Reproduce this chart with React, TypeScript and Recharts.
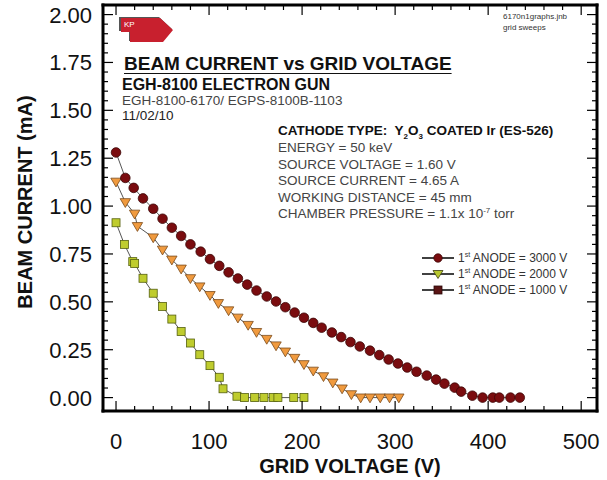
import React from 'react';
import { LineChart, Line, XAxis, YAxis } from 'recharts';

// grid voltage (V) / beam current (mA)
const anode3000V = [0, 10, 19, 29, 40, 50, 60, 70, 80, 91, 101, 111, 121, 131, 141, 151, 162, 172, 182, 192, 202, 212, 221, 232, 242, 252, 262, 273, 283, 293, 303, 313, 323, 334, 344, 353, 364, 371, 383, 394, 405, 412, 424, 434];
const anode3000I = [1.28, 1.147, 1.095, 1.04, 0.986, 0.934, 0.887, 0.844, 0.8, 0.762, 0.723, 0.688, 0.654, 0.622, 0.59, 0.559, 0.528, 0.502, 0.472, 0.444, 0.417, 0.39, 0.365, 0.34, 0.316, 0.29, 0.267, 0.245, 0.222, 0.199, 0.178, 0.157, 0.135, 0.115, 0.094, 0.073, 0.052, 0.031, 0.01, 0, 0, 0, 0, 0];

const anode2000V = [0, 10, 20, 23, 40, 50, 60, 70, 80, 90, 101, 110, 121, 131, 142, 151, 162, 172, 182, 192, 202, 212, 223, 233, 243, 253, 263, 273, 284, 294, 304];
const anode2000I = [1.127, 1.02, 0.96, 0.895, 0.836, 0.772, 0.72, 0.673, 0.623, 0.58, 0.535, 0.493, 0.455, 0.417, 0.379, 0.342, 0.306, 0.272, 0.24, 0.207, 0.174, 0.14, 0.111, 0.078, 0.047, 0.017, 0, 0, 0, 0, 0];

const anode1000V = [0, 9, 18, 20, 29, 40, 50, 60, 70, 80, 90, 101, 111, 115, 130, 138, 149, 159, 169, 174, 191, 202];
const anode1000I = [0.913, 0.8, 0.71, 0.7, 0.623, 0.545, 0.476, 0.41, 0.345, 0.285, 0.224, 0.167, 0.106, 0.046, 0.007, 0, 0, 0, 0, 0, 0, 0];

const xTicks = [0, 20, 40, 60, 80, 100, 120, 140, 160, 180, 200, 220, 240, 260, 280, 300, 320, 340, 360, 380, 400, 420, 440, 460, 480, 500];
const yTicks = [0, 0.05, 0.1, 0.15, 0.2, 0.25, 0.3, 0.35, 0.4, 0.45, 0.5, 0.55, 0.6, 0.65, 0.7, 0.75, 0.8, 0.85, 0.9, 0.95, 1, 1.05, 1.1, 1.15, 1.2, 1.25, 1.3, 1.35, 1.4, 1.45, 1.5, 1.55, 1.6, 1.65, 1.7, 1.75, 1.8, 1.85, 1.9, 1.95, 2];

const legendNames = ['3000 V', '2000 V', '1000 V'];

const zip = (vs: number[], is: number[]) => vs.map((v, k) => ({ v, i: is[k] }));
const s3000 = zip(anode3000V, anode3000I);
const s2000 = zip(anode2000V, anode2000I);
const s1000 = zip(anode1000V, anode1000I);

const FONT = '"Liberation Sans", Arial, sans-serif';
const MAJ = 10;
const MIN = 5;

const isMajorX = (v: number) => v % 100 === 0;
const isMajorY = (v: number) => Math.round(v * 100) % 25 === 0;

const BottomTick = ({ x, y, payload }: any) => {
  const major = isMajorX(payload.value);
  return (
    <g>
      <line x1={x} x2={x} y1={y} y2={y - (major ? MAJ : MIN)} stroke="#000" strokeWidth={1.2} />
      {major && (
        <text x={x} y={y + 38} textAnchor="middle" fontSize={22} fontFamily={FONT} fill="#111">
          {payload.value}
        </text>
      )}
    </g>
  );
};

const TopTick = ({ x, y, payload }: any) => {
  const major = isMajorX(payload.value);
  return <line x1={x} x2={x} y1={y} y2={y + (major ? MAJ : MIN)} stroke="#000" strokeWidth={1.2} />;
};

const LeftTick = ({ x, y, payload }: any) => {
  const major = isMajorY(payload.value);
  return (
    <g>
      <line x1={x} x2={x + (major ? MAJ : MIN)} y1={y} y2={y} stroke="#000" strokeWidth={1.2} />
      {major && (
        <text x={x - 11} y={y + 8} textAnchor="end" fontSize={22} fontFamily={FONT} fill="#111">
          {payload.value.toFixed(2)}
        </text>
      )}
    </g>
  );
};

const RightTick = ({ x, y, payload }: any) => {
  const major = isMajorY(payload.value);
  return <line x1={x} x2={x - (major ? MAJ : MIN)} y1={y} y2={y} stroke="#000" strokeWidth={1.2} />;
};

const CircleDot = ({ cx, cy, index }: any) => (
  <circle key={`c${index}`} cx={cx} cy={cy} r={4.8} fill="#7a0c0f" stroke="#3b0606" strokeWidth={0.8} />
);

const TriDot = ({ cx, cy, index }: any) => (
  <polygon
    key={`t${index}`}
    points={`${cx - 5.2},${cy - 3.6} ${cx + 5.2},${cy - 3.6} ${cx},${cy + 5.2}`}
    fill="#f09a3e"
    stroke="#7a4a1a"
    strokeWidth={0.8}
  />
);

const SquareDot = ({ cx, cy, index }: any) => (
  <rect key={`s${index}`} x={cx - 4} y={cy - 4} width={8} height={8} fill="#bfcc2e" stroke="#55600f" strokeWidth={0.8} />
);

const axisLine = { stroke: '#000', strokeWidth: 3, strokeLinecap: 'square' as const };

const abs = (left: number, top: number, size: number, extra: React.CSSProperties = {}): React.CSSProperties => ({
  position: 'absolute',
  left,
  top,
  fontSize: size,
  lineHeight: `${size}px`,
  fontFamily: FONT,
  whiteSpace: 'nowrap',
  ...extra,
});

const paramLines = [
  'ENERGY = 50 keV',
  'SOURCE VOLTAGE = 1.60 V',
  'SOURCE CURRENT = 4.65 A',
  'WORKING DISTANCE = 45 mm',
];

export default function App() {
  return (
    <div style={{ position: 'absolute', left: 0, top: 0, width: 607, height: 480, background: '#fff' }}>
      <LineChart width={607} height={480} margin={{ top: 4, right: 9, bottom: 0, left: 0 }}>
        <XAxis
          xAxisId="b"
          type="number"
          dataKey="v"
          domain={[-14, 517]}
          allowDataOverflow
          ticks={xTicks}
          interval={0}
          height={69}
          tickSize={0}
          tickMargin={0}
          tickLine={false}
          axisLine={axisLine}
          tick={<BottomTick />}
          label={{
            value: 'GRID VOLTAGE (V)',
            position: 'insideBottom',
            offset: 7,
            style: { fontFamily: FONT, fontSize: 20, fontWeight: 'bold', fill: '#111' },
          }}
        />
        <XAxis
          xAxisId="t"
          orientation="top"
          type="number"
          dataKey="v"
          domain={[-14, 517]}
          allowDataOverflow
          ticks={xTicks}
          interval={0}
          height={1}
          tickSize={0}
          tickMargin={0}
          tickLine={false}
          axisLine={axisLine}
          tick={<TopTick />}
        />
        <YAxis
          yAxisId="l"
          type="number"
          domain={[-0.07, 2.05]}
          allowDataOverflow
          ticks={yTicks}
          interval={0}
          width={103}
          tickSize={0}
          tickMargin={0}
          tickLine={false}
          axisLine={axisLine}
          tick={<LeftTick />}
          label={{
            value: 'BEAM CURRENT (mA)',
            angle: -90,
            position: 'center',
            dx: -27,
            dy: -6,
            style: { fontFamily: FONT, fontSize: 20, fontWeight: 'bold', fill: '#111', textAnchor: 'middle' },
          }}
        />
        <YAxis
          yAxisId="r"
          orientation="right"
          type="number"
          domain={[-0.07, 2.05]}
          allowDataOverflow
          ticks={yTicks}
          interval={0}
          width={1}
          tickSize={0}
          tickMargin={0}
          tickLine={false}
          axisLine={axisLine}
          tick={<RightTick />}
        />
        <Line xAxisId="b" yAxisId="l" data={s1000} dataKey="i" name={legendNames[2]} stroke="#555" strokeWidth={1} dot={SquareDot} isAnimationActive={false} />
        <Line xAxisId="b" yAxisId="l" data={s2000} dataKey="i" name={legendNames[1]} stroke="#555" strokeWidth={1} dot={TriDot} isAnimationActive={false} />
        <Line xAxisId="b" yAxisId="l" data={s3000} dataKey="i" name={legendNames[0]} stroke="#555" strokeWidth={1} dot={CircleDot} isAnimationActive={false} />
      </LineChart>

      {/* KP logo */}
      <svg style={{ position: 'absolute', left: 118, top: 16 }} width={60} height={30}>
        <polygon points="2,2 42,2 55,14 45,26 12,26 12,16 2,16" fill="#555" transform="translate(-1,-1)" />
        <polygon points="3,2 42,2 55,14 45,26 12,26 12,16 3,16" fill="#c8202e" />
        <text x={6} y={11} fontSize={8} fill="#fff" fontFamily={FONT}>KP</text>
      </svg>

      <div style={abs(503, 13, 8, { color: '#333' })}>6170n1graphs.jnb</div>
      <div style={abs(503, 24, 8, { color: '#333' })}>grid sweeps</div>

      <div style={abs(124, 54, 19, { fontWeight: 'bold', color: '#111', textDecoration: 'underline', textUnderlineOffset: '3px' })}>
        BEAM CURRENT vs GRID VOLTAGE
      </div>
      <div style={abs(122, 77, 16, { fontWeight: 'bold', color: '#111' })}>EGH-8100 ELECTRON GUN</div>
      <div style={abs(122, 94, 13.5, { color: '#444' })}>EGH-8100-6170/ EGPS-8100B-1103</div>
      <div style={abs(122, 109, 13.5, { color: '#222' })}>11/02/10</div>

      <div style={abs(278, 124, 13.5, { fontWeight: 'bold', color: '#111' })}>
        CATHODE TYPE:&nbsp; Y<sub style={{ fontSize: 8, lineHeight: 0 }}>2</sub>O<sub style={{ fontSize: 8, lineHeight: 0 }}>3</sub> COATED Ir (ES-526)
      </div>
      {paramLines.map((t, k) => (
        <div key={t} style={abs(278, 141 + k * 16.5, 13.5, { color: '#444' })}>{t}</div>
      ))}
      <div style={abs(278, 207, 13.5, { color: '#444' })}>
        CHAMBER PRESSURE = 1.1x 10<sup style={{ fontSize: 8, lineHeight: 0 }}>-7</sup> torr
      </div>

      {/* legend */}
      {legendNames.map((n, k) => {
        const cy = 258 + k * 16;
        return (
          <React.Fragment key={n}>
            <svg style={{ position: 'absolute', left: 420, top: cy - 7 }} width={36} height={14}>
              <line x1={2} x2={34} y1={7} y2={7} stroke="#111" strokeWidth={1.6} />
              {k === 0 && <circle cx={18} cy={7} r={4.2} fill="#7a0c0f" stroke="#3b0606" strokeWidth={0.8} />}
              {k === 1 && <polygon points="13,3.5 23,3.5 18,11.5" fill="#b8c830" stroke="#3d4010" strokeWidth={0.8} />}
              {k === 2 && <rect x={14} y={3} width={8} height={8} fill="#5a1515" stroke="#2a0808" strokeWidth={0.8} />}
            </svg>
            <div style={abs(458, cy - 6, 12, { color: '#333' })}>
              1<sup style={{ fontSize: 7, lineHeight: 0 }}>st</sup> ANODE = {n}
            </div>
          </React.Fragment>
        );
      })}
    </div>
  );
}
